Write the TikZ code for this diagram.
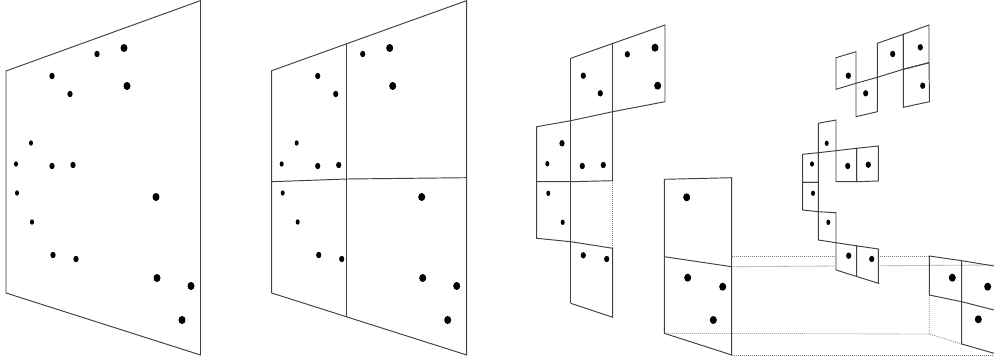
\documentclass[tikz,border=0pt]{standalone}
\begin{document}
\begin{tikzpicture}[x=1pt,y=-1pt,
  frame/.style={draw=black!75,line width=0.95pt,line join=miter},
  hid/.style={draw=black!50,line width=0.85pt,dash pattern=on 0.8pt off 1.2pt},
  cell/.style={frame,fill=white}]
\useasboundingbox (0,0) rectangle (994,364);
\fill[white] (0,0) rectangle (994,364);
% ---------- dot macros via foreach ----------
\newcommand\dotsS[1]{\foreach \x/\y in {#1} \fill[black] (\x,\y) ellipse [x radius=2.0pt,y radius=2.7pt];}
\newcommand\dotsM[1]{\foreach \x/\y in {#1} \fill[black] (\x,\y) ellipse [x radius=2.6pt,y radius=3.2pt];}
\newcommand\dotsL{\dotsLL}
\newcommand\dotsLL[1]{\foreach \x/\y in {#1} \fill[black] (\x,\y) ellipse [x radius=3.5pt,y radius=4.0pt];}
% ---------- panel 1 ----------
\draw[frame] (6,71) -- (200.5,0.6) -- (200.5,355) -- (6,293) -- cycle;
\dotsS{31/143,16/164,17/193,32/222}
\dotsM{97/54,52/76,70/94,52/166,73/165,53/255,76/259}
\dotsL{124/48,127/86,156/197,157/278,191/286,182/320}
% ---------- panel 2 ----------
\draw[frame] (271.7,70.7) -- (466.7,0.6) -- (466.7,355) -- (271.7,293) -- cycle;
\draw[frame] (346.7,43.5) -- (346.7,316.7);
\draw[frame] (271.7,181.7) -- (346.7,179) -- (466.7,177.7);
\begin{scope}[xshift=265.7pt]
\dotsS{31/143,16/164,17/193,32/222}
\dotsM{97/54,52/76,70/94,52/166,73/165,53/255,76/259}
\dotsL{124/48,127/86,156/197,157/278,191/286,182/320}
\end{scope}
% ---------- hidden (dotted) edges ----------
\draw[hid] (612.7,180.7) -- (612.7,248.3);
\draw[hid] (731.7,256.7) -- (929.3,256.7);
\draw[hid] (731.7,266.7) -- (994,265);
\draw[hid] (664.3,333.3) -- (929.3,334);
\draw[hid] (731.7,355.5) -- (994,355.5);
\draw[hid] (929.3,295) -- (929.3,334) -- (961.7,344);
% ---------- panel 3 ----------
\draw[frame] (570.7,58.3) -- (665,25) -- (665,101.7) -- (612.7,111.7) -- (570.7,120.7);
\draw[frame] (612.7,43.3) -- (612.7,180.7);
\draw[frame] (570.7,58.3) -- (570.7,303.3);
\draw[frame] (570.7,120.7) -- (536.7,126.7) -- (536.7,238.3) -- (570.7,241.7);
\draw[frame] (536.7,181.7) -- (570.7,181.7) -- (612.7,180.7);
\draw[frame] (570.7,241.7) -- (612.7,248.3) -- (612.7,317.3) -- (570.7,303.3);
\dotsS{547.3/163.7,548.3/193.3,562.7/222.3}
\dotsM{583.3/75.7,600.3/93.3,627.3/54.3,562/143.3,582.3/166,603.3/165,583.3/255.3,606.7/259}
\dotsL{655/47.7,657.7/85.7}
% ---------- panel 4: upper cluster ----------
\draw[frame] (836,57.7) -- (856,51.7) -- (856,83.3) -- (836,89.3) -- cycle;
\draw[frame] (856,83.3) -- (877.3,77.3) -- (877.3,111.7) -- (856,116.7) -- cycle;
\draw[frame] (877.3,43.3) -- (903.3,34.3) -- (903.3,69.3) -- (877.3,77.3) -- cycle;
\draw[frame] (903.3,34.3) -- (929,25) -- (929,62.7) -- (903.3,69.3) -- cycle;
\draw[frame] (903.3,69.3) -- (929,62.7) -- (929.5,101.7) -- (903.3,107.3) -- cycle;
% ---------- panel 4: middle cluster ----------
\draw[frame] (818.3,123.3) -- (836,120) -- (836,150.7) -- (818.3,152.7) -- cycle;
\draw[frame] (802.7,154.3) -- (818.3,152.7) -- (818.3,182.3) -- (802.7,182.3) -- cycle;
\draw[frame] (836,150.7) -- (856.7,148.3) -- (856.7,181.7) -- (836,181.7) -- cycle;
\draw[frame] (856.7,148.3) -- (878.3,146) -- (878.3,181) -- (856.7,181.7) -- cycle;
\draw[frame] (802.7,182.3) -- (818.3,182.3) -- (818.3,211.7) -- (802.7,210) -- cycle;
\draw[frame] (818.3,211.7) -- (836,212.7) -- (836,242.7) -- (818.3,240) -- cycle;
\draw[cell] (836,242.7) -- (856.7,245.8) -- (856.7,276.5) -- (836,270) -- cycle;
\draw[cell] (856.7,245.8) -- (878.3,249) -- (878.3,283.3) -- (856.7,276.5) -- cycle;
\dotsS{826.7/143.3,812/164,813/193.3,828.3/222.3}
\dotsM{848.3/75.7,865.7/93.3,892.7/54,847.7/166,868.3/164.7,848.7/255.7,871.7/259}
\dotsM{920.3/47.3,922.7/85.7}
% ---------- bottom box ----------
\draw[frame] (664.3,179.3) -- (731.7,177.7) -- (731.7,355) -- (664.3,333.3) -- cycle;
\draw[frame] (664.3,256.7) -- (731.7,266.7);
\dotsL{686.7/197.3,687.7/277.7,722.7/286.7,713.3/320}
% ---------- right cluster ----------
\draw[frame] (929.3,256) -- (961.7,260.7) -- (961.7,301.7) -- (929.3,295) -- cycle;
\draw[frame] (961.7,260.7) -- (994,266);
\draw[frame] (961.7,301.7) -- (994,310);
\draw[frame] (961.7,301.7) -- (961.7,344) -- (994,353.3);
\dotsL{952.3/277.7,987.7/286.7,978.3/319.3}
\end{tikzpicture}
\end{document}
